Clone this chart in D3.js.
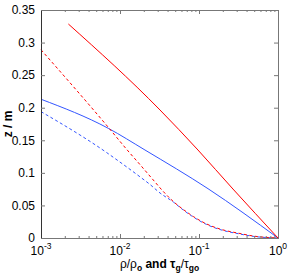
<!DOCTYPE html>
<html>
<head>
<meta charset="utf-8">
<script src="https://cdn.jsdelivr.net/npm/d3@7"></script>
<style>
  body { margin: 0; background: #fff; }
  svg text { font-family: "Liberation Sans", Arial, sans-serif; }
</style>
</head>
<body>
<svg id="chart" width="292" height="280"></svg>
<script>
/* ---- data ---- */
const redSolidX  = [0.00222, 0.0321, 0.0970, 0.269, 1];
const redSolidZ  = [0.3285, 0.1965, 0.1351, 0.0752, 0];

const redDashX   = [0.001, 0.00733, 0.01236, 0.01787, 0.0264, 0.0353, 0.0473, 0.0632, 0.0847, 0.125, 0.184, 0.330, 0.483, 1];
const redDashZ   = [0.289, 0.168, 0.135, 0.1128, 0.089, 0.0714, 0.0560, 0.0438, 0.0330, 0.0215, 0.0138, 0.0069, 0.0031, 0];

const blueSolidX = [0.001, 0.0071, 0.0207, 0.130, 1];
const blueSolidZ = [0.213, 0.1684, 0.1351, 0.0757, 0];

const blueDashX  = [0.001, 0.0068, 0.010, 0.01787, 0.024, 0.0321, 0.0473, 0.0632, 0.0847, 0.125, 0.184, 0.330, 0.483, 1];
const blueDashZ  = [0.194, 0.1310, 0.1165, 0.094, 0.0821, 0.0691, 0.0553, 0.0430, 0.0322, 0.0207, 0.0130, 0.0061, 0.0026, 0];

const yTicks = [0, 0.05, 0.1, 0.15, 0.2, 0.25, 0.3, 0.35];
const yTickLabels = ["0", "0.05", "0.1", "0.15", "0.2", "0.25", "0.3", "0.35"];
const xDecades = [0.001, 0.01, 0.1, 1];
const xDecadeExp = ["-3", "-2", "-1", "0"];

/* ---- layout ---- */
const plotL = 41, plotT = 10, plotR = 278, plotB = 238;
const svg = d3.select("#chart");

const x = d3.scaleLog().domain([1e-3, 1]).range([plotL, plotR]);
const y = d3.scaleLinear().domain([0, 0.35]).range([plotB, plotT]);

/* ---- curves ---- */
function drawSeries(xs, zs, color, dashed) {
    const pts = xs.map((v, i) => [x(v), y(zs[i])]);
    svg.append("path")
        .attr("d", d3.line().curve(d3.curveMonotoneX)(pts))
        .attr("fill", "none")
        .attr("stroke", color)
        .attr("stroke-width", 1)
        .attr("stroke-dasharray", dashed ? "3,2.5" : null);
}

drawSeries(blueSolidX, blueSolidZ, "#3355ff", false);
drawSeries(blueDashX, blueDashZ, "#3355ff", true);
drawSeries(redSolidX, redSolidZ, "#ff0000", false);
drawSeries(redDashX, redDashZ, "#ff0000", true);

/* ---- frame + ticks ---- */
const minor = [];
xDecades.slice(0, 3).forEach(d => { for (let k = 2; k <= 9; k++) minor.push(d * k); });

svg.append("g").attr("transform", `translate(0,${plotB})`)
    .call(d3.axisBottom(x).tickValues(minor).tickSize(-2).tickFormat(""));
svg.append("g").attr("transform", `translate(0,${plotT})`)
    .call(d3.axisTop(x).tickValues(minor).tickSize(-2).tickFormat(""));
svg.append("g").attr("transform", `translate(0,${plotB})`)
    .call(d3.axisBottom(x).tickValues(xDecades).tickSize(-4).tickFormat(""));
svg.append("g").attr("transform", `translate(0,${plotT})`)
    .call(d3.axisTop(x).tickValues(xDecades).tickSize(-4).tickFormat(""));

svg.append("g").attr("transform", `translate(${plotR},0)`)
    .call(d3.axisRight(y).tickValues(yTicks).tickSize(-4).tickFormat(""));
svg.append("g").attr("class", "yleft").attr("transform", `translate(${plotL},0)`)
    .call(d3.axisLeft(y).tickValues(yTicks).tickSize(-4)
        .tickFormat((d, i) => yTickLabels[i]).tickPadding(6));

svg.selectAll(".domain").attr("stroke", "#777");
svg.selectAll(".tick line").attr("stroke", "#777");
svg.select(".yleft .domain").attr("stroke", "#333");
svg.selectAll(".tick text").attr("font-size", 12).attr("fill", "#000")
    .attr("font-family", "Liberation Sans, Arial, sans-serif");

// x tick labels 10^n
xDecades.forEach((d, i) => {
    const t = svg.append("text")
        .attr("x", x(d))
        .attr("y", 255)
        .attr("text-anchor", "middle")
        .attr("font-size", 12);
    t.append("tspan").text("10");
    t.append("tspan").attr("dy", -6).attr("font-size", 8.5).text(xDecadeExp[i]);
});

/* ---- axis titles ---- */
const xl = svg.append("text")
    .attr("x", (plotL + plotR) / 2)
    .attr("y", 268)
    .attr("text-anchor", "middle")
    .attr("font-size", 12);
xl.append("tspan").text("ρ/ρ");
xl.append("tspan").attr("dy", 3).attr("font-size", 8.5).attr("font-weight", "bold").text("o");
xl.append("tspan").attr("dy", -3).attr("font-weight", "bold").text(" and τ");
xl.append("tspan").attr("dy", 3).attr("font-size", 8.5).attr("font-weight", "bold").text("g");
xl.append("tspan").attr("dy", -3).text("/τ");
xl.append("tspan").attr("dy", 3).attr("font-size", 8.5).attr("font-weight", "bold").text("go");

svg.append("text")
    .attr("transform", `translate(12,${(plotT + plotB) / 2}) rotate(-90)`)
    .attr("text-anchor", "middle")
    .attr("font-size", 12)
    .attr("font-weight", "bold")
    .text("z / m");
</script>
</body>
</html>
